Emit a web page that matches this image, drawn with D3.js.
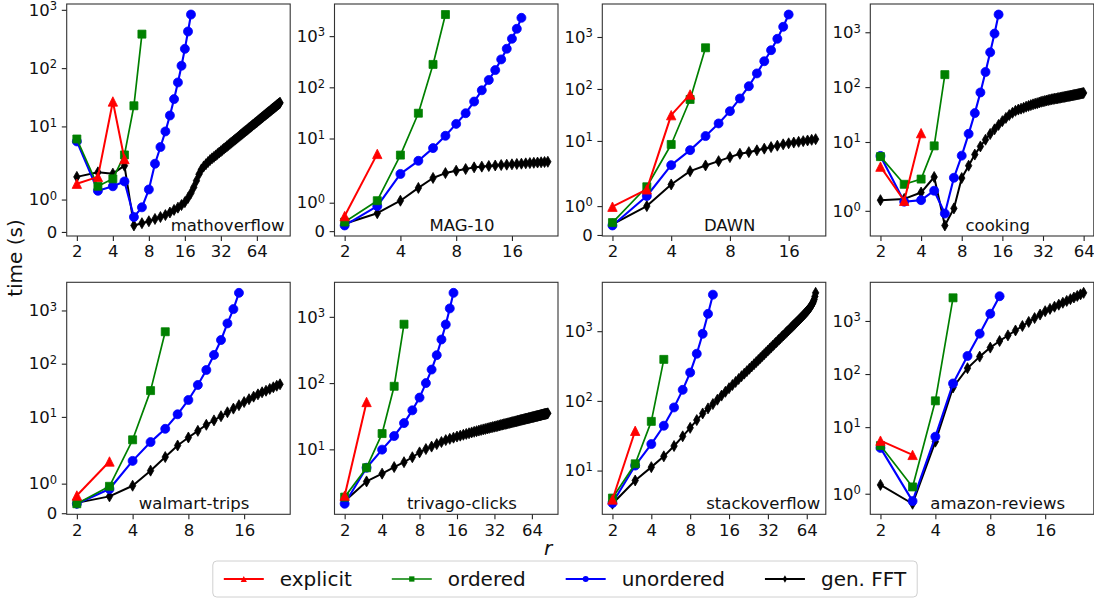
<!DOCTYPE html>
<html>
<head>
<meta charset="utf-8">
<script src="https://cdn.jsdelivr.net/npm/d3@7"></script>
<style>
  body { margin: 0; background: #fff; }
  svg { display: block; font-family: "DejaVu Sans", sans-serif; }
</style>
</head>
<body>
<svg id="chart" width="1094" height="601"></svg>
<script>
// every series starts at r = 2 and goes up by one
const rStart = 2;
const seriesNames = ["explicit", "ordered", "unordered", "gen. FFT"];
const datasetNames = ["mathoverflow", "MAG-10", "DAWN", "cooking",
                      "walmart-trips", "trivago-clicks", "stackoverflow", "amazon-reviews"];
const yTickValues = [0, 1, 10, 100, 1000];

// mathoverflow
const mathoverflowExplicit = [1.49, 1.70, 26.8, 2.76];
const mathoverflowOrdered = [6.08, 1.41, 1.64, 3.24, 22.6, 383];
const mathoverflowUnordered = [5.53, 1.27, 1.41, 1.56, 0.46, 0.76, 1.31, 2.29, 4.43, 8.2, 15.4, 29.4, 56.8, 110, 214, 425, 830];
const mathoverflowFFT = [1.70, 1.84, 1.80, 2.12, 0.20, 0.27, 0.33, 0.40, 0.46, 0.52, 0.60, 0.68, 0.75, 0.83, 0.92, 1.05, 1.20, 1.38, 1.58, 1.78,
  1.93, 2.06, 2.25, 2.45, 2.65, 2.83, 3.00, 3.18, 3.37, 3.56, 3.75, 3.95, 4.16, 4.36, 4.58, 4.79, 5.01, 5.24, 5.46, 5.69,
  5.93, 6.17, 6.41, 6.66, 6.91, 7.16, 7.42, 7.68, 7.95, 8.22, 8.49, 8.76, 9.04, 9.33, 9.61, 9.90, 10.2, 10.5, 10.8, 11.1,
  11.4, 11.7, 12.0, 12.3, 12.7, 13.0, 13.3, 13.7, 14.0, 14.3, 14.7, 15.0, 15.4, 15.7, 16.1, 16.4, 16.8, 17.1, 17.5, 17.9,
  18.2, 18.6, 19.0, 19.4, 19.8, 20.2, 20.5, 20.9, 21.3, 21.7, 22.1, 22.5, 23.0, 23.4, 23.8, 24.2, 24.6, 25.0, 25.5];

// MAG-10
const magExplicit = [0.53, 5.0];
const magOrdered = [0.32, 1.07, 4.74, 31.2, 280, 2642];
const magUnordered = [0.20, 0.88, 2.03, 3.67, 6.49, 11.3, 19.3, 31.2, 52.7, 87.5, 139, 217, 351, 567, 889, 1391, 2280];
const magFFT = [0.26, 0.63, 1.07, 1.52, 1.87, 2.11, 2.35, 2.53, 2.73, 2.82, 2.90, 2.97, 3.03, 3.08, 3.13, 3.18, 3.22, 3.27, 3.31, 3.35,
  3.39, 3.43, 3.47, 3.51];

// DAWN
const dawnExplicit = [0.98, 1.58, 31.3, 78.4];
const dawnOrdered = [0.43, 1.67, 8.55, 62.8, 620];
const dawnUnordered = [0.33, 1.35, 3.42, 6.65, 12.4, 21.7, 37.4, 65.6, 113, 199, 342, 557, 923, 1571, 2704];
const dawnFFT = [0.37, 1.0, 1.75, 2.62, 3.37, 4.08, 4.88, 5.66, 6.08, 6.6, 7.1, 7.6, 8.1, 8.6, 9.0, 9.3, 9.6, 9.9, 10.2, 10.5, 10.8];

// cooking
const cookingExplicit = [3.55, 1.33, 14.5];
const cookingOrdered = [5.41, 1.87, 2.11, 8.5, 169];
const cookingUnordered = [5.57, 1.30, 1.35, 1.66, 0.91, 2.23, 5.64, 14.1, 33.6, 80, 189, 431, 946, 2104];
const cookingFFT = [1.35, 1.39, 1.6, 2.3, 0.52, 1.08, 2.2, 3.7, 5.9, 8.3, 11, 14, 17, 20.5, 24, 27.5, 31, 34, 37, 39,
  40.5, 42, 44, 45.5, 47, 48.5, 50, 51, 52.5, 54, 55, 56, 57, 58, 59, 60, 60.7, 61.4, 62, 62.8,
  63.5, 64.2, 65, 65.7, 66.4, 67, 67.7, 68.4, 69, 69.7, 70.3, 71, 71.6, 72.3, 73, 73.6, 74.3, 75, 75.6, 76.3,
  77, 77.7, 78.4];

// walmart-trips
const walmartExplicit = [0.60, 1.75];
const walmartOrdered = [0.32, 0.91, 3.71, 31.2, 398];
const walmartUnordered = [0.32, 0.82, 1.77, 3.36, 5.97, 11.2, 20.8, 39.8, 76.2, 146, 278, 571, 1060, 2143];
const walmartFFT = [0.35, 0.57, 0.93, 1.44, 1.9, 2.9, 4.1, 5.47, 7.1, 8.6, 10.3, 12.2, 14.3, 16.6, 19, 21.5, 24, 26.5, 29, 31,
  33.5, 36, 38.5, 41];

// trivago-clicks
const trivagoExplicit = [2.0, 51.9];
const trivagoOrdered = [1.96, 5.28, 17.3, 89.5, 774];
const trivagoUnordered = [1.78, 5.28, 9.9, 15.9, 24.9, 38.8, 60.4, 100, 160, 264, 455, 767, 1340, 2302];
const trivagoFFT = [1.85, 3.28, 4.3, 5.4, 6.4, 7.6, 9.0, 10.1, 11.0, 12.0, 12.9, 13.8, 14.4, 15.0, 15.6, 16.1, 16.6, 17.1, 17.5, 18.0,
  18.4, 18.8, 19.2, 19.6, 20.0, 20.3, 20.7, 21.0, 21.4, 21.7, 22.0, 22.3, 22.6, 23.0, 23.3, 23.6, 23.9, 24.2, 24.4, 24.7,
  25.0, 25.3, 25.6, 25.8, 26.1, 26.4, 26.6, 26.9, 27.1, 27.4, 27.7, 27.9, 28.1, 28.4, 28.6, 28.9, 29.1, 29.3, 29.6, 29.8,
  30.0, 30.3, 30.5, 30.7, 30.9, 31.1, 31.4, 31.6, 31.8, 32.0, 32.2, 32.4, 32.6, 32.8, 33.1, 33.3, 33.5, 33.7, 33.9, 34.1,
  34.3, 34.4, 34.6, 34.8, 35.0];

// stackoverflow
const stackExplicit = [3.85, 37.2];
const stackOrdered = [4.03, 12.5, 50.8, 394];
const stackUnordered = [3.42, 11.8, 24.0, 44.0, 80.5, 144, 255, 475, 918, 1774, 3342];
const stackFFT = [3.34, 7.2, 11.2, 16, 22.5, 31, 41, 53, 66, 78, 90, 104, 119, 135, 152, 169, 187, 206, 226, 246,
  267, 289, 312, 336, 360, 386, 412, 440, 468, 497, 527, 558, 589, 621, 654, 688, 722, 757, 793, 830,
  867, 905, 944, 984, 1024, 1065, 1107, 1150, 1194, 1238, 1283, 1329, 1376, 1424, 1473, 1523, 1574, 1626, 1680, 1735,
  1792, 1850, 1910, 1975, 2045, 2120, 2200, 2290, 2390, 2500, 2650, 2850, 3150, 3550];

// amazon-reviews
const amazonExplicit = [5.56, 3.0];
const amazonOrdered = [4.49, 1.23, 31.3, 2729];
const amazonUnordered = [4.06, 0.75, 6.6, 66.4, 219, 576, 1368, 2925];
const amazonFFT = [1.30, 0.66, 5.33, 55.8, 129, 213, 315, 419, 535, 662, 804, 960, 1133, 1321, 1528, 1688, 1853, 2026, 2203, 2386,
  2575, 2767, 2965, 3167, 3387];

const panelSeries = [
  [mathoverflowExplicit, mathoverflowOrdered, mathoverflowUnordered, mathoverflowFFT],
  [magExplicit, magOrdered, magUnordered, magFFT],
  [dawnExplicit, dawnOrdered, dawnUnordered, dawnFFT],
  [cookingExplicit, cookingOrdered, cookingUnordered, cookingFFT],
  [walmartExplicit, walmartOrdered, walmartUnordered, walmartFFT],
  [trivagoExplicit, trivagoOrdered, trivagoUnordered, trivagoFFT],
  [stackExplicit, stackOrdered, stackUnordered, stackFFT],
  [amazonExplicit, amazonOrdered, amazonUnordered, amazonFFT]
];

// layout
const colLeft = [66.7, 334.5, 602.3, 870.3];
const rowTop = [4, 282.3];
const axW = 223.5, axH = 232;
const labelFrac = [0.72, 0.57, 0.57, 0.57, 0.57, 0.57, 0.72, 0.57];
const styles = [
  { color: "#ff0000", marker: "triangle", lw: 2.0 },
  { color: "#008000", marker: "square", lw: 1.7 },
  { color: "#0000ff", marker: "circle", lw: 2.1 },
  { color: "#000000", marker: "diamond", lw: 2.0 }
];

// matplotlib symlog, linthresh 2, linscale 1
const linthresh = 2, linAdj = 1 / (1 - 1 / 10);
function symT(v) {
  return v <= linthresh ? v / linthresh * linAdj : linAdj + Math.log10(v / linthresh);
}

function markerPath(type, k) {
  const p = d3.path();
  if (type === "circle") {
    p.arc(0, 0, 4.5 * k, 0, 2 * Math.PI);
  } else if (type === "square") {
    p.rect(-4 * k, -4 * k, 8 * k, 8 * k);
  } else if (type === "triangle") {
    p.moveTo(0, -4.7 * k); p.lineTo(4.7 * k, 4.7 * k); p.lineTo(-4.7 * k, 4.7 * k); p.closePath();
  } else {
    p.moveTo(0, -5.5 * k); p.lineTo(3.2 * k, 0); p.lineTo(0, 5.5 * k); p.lineTo(-3.2 * k, 0); p.closePath();
  }
  return p.toString();
}

const svg = d3.select("#chart");

panelSeries.forEach((seriesList, i) => {
  const left = colLeft[i % 4], top = rowTop[Math.floor(i / 4)];
  const g = svg.append("g").attr("transform", `translate(${left},${top})`);

  const pts = seriesList.flatMap(vals => vals.map((v, j) => ({ r: rStart + j, v })));
  const rMax = d3.max(pts, d => d.r);
  const lo = Math.log2(rStart), hi = Math.log2(rMax), px = 0.05 * (hi - lo);
  const x = d3.scaleLog().base(2).domain([2 ** (lo - px), 2 ** (hi + px)]).range([0, axW]);
  const tExt = d3.extent(pts, d => symT(d.v));
  const py = 0.05 * (tExt[1] - tExt[0]);
  const y = d3.scaleLinear().domain([tExt[0] - py, tExt[1] + py]).range([axH, 0]);

  // x axis
  const xTicks = [2, 4, 8, 16, 32, 64].filter(t => t <= x.domain()[1]);
  const gx = g.append("g").attr("transform", `translate(0,${axH})`)
    .call(d3.axisBottom(x).tickValues(xTicks).tickFormat(d3.format("d")).tickSize(4.9).tickPadding(4.6));
  gx.select(".domain").remove();
  gx.attr("font-size", null).attr("font-family", null);
  gx.selectAll("line").attr("stroke", "#222").attr("stroke-width", 1.1);
  gx.selectAll("text").attr("font-size", 16.5).attr("fill", "#111");

  // y axis
  const yTicks = yTickValues.filter(v => { const t = symT(v); return t >= y.domain()[0] && t <= y.domain()[1]; });
  const tickByT = new Map(yTicks.map(v => [symT(v), v]));
  const gy = g.append("g")
    .call(d3.axisLeft(y).tickValues(yTicks.map(symT)).tickSize(4.9).tickPadding(4.6));
  gy.select(".domain").remove();
  gy.attr("font-size", null).attr("font-family", null);
  gy.selectAll("line").attr("stroke", "#222").attr("stroke-width", 1.1);
  gy.selectAll(".tick text").each(function(d) {
    const v = tickByT.get(d);
    const t = d3.select(this).attr("font-size", 16.5).attr("fill", "#111").text(null);
    if (v === 0) { t.text("0"); return; }
    t.append("tspan").text("10");
    t.append("tspan").attr("dy", "-0.48em").attr("font-size", "0.7em").text(Math.round(Math.log10(v)));
  });

  // series, black first so red ends on top
  [3, 2, 1, 0].forEach(s => {
    const vals = seriesList[s], st = styles[s];
    const data = vals.map((v, j) => ({ r: rStart + j, v }));
    g.append("path").datum(data)
      .attr("fill", "none").attr("stroke", st.color).attr("stroke-width", st.lw)
      .attr("stroke-linejoin", "round")
      .attr("d", d3.line().x(d => x(d.r)).y(d => y(symT(d.v))));
    g.append("g").selectAll("path").data(data).enter().append("path")
      .attr("transform", d => `translate(${x(d.r)},${y(symT(d.v))})`)
      .attr("d", markerPath(st.marker, 1))
      .attr("fill", st.color).attr("stroke", st.color).attr("stroke-width", 0.8);
  });

  // frame
  g.append("rect").attr("width", axW).attr("height", axH)
    .attr("fill", "none").attr("stroke", "#333").attr("stroke-width", 1.1);

  g.append("text").attr("x", axW * labelFrac[i]).attr("y", axH - 5.5)
    .attr("text-anchor", "middle").attr("font-size", 16.5).attr("fill", "#111")
    .text(datasetNames[i]);
});

// axis titles
svg.append("text").attr("transform", "translate(22,258) rotate(-90)")
  .attr("text-anchor", "middle").attr("font-size", 20).attr("fill", "#111").text("time (s)");
svg.append("text").attr("x", 548).attr("y", 555)
  .attr("text-anchor", "middle").attr("font-size", 20).attr("font-style", "italic").attr("fill", "#111").text("r");

// legend
const fs = 20, handleLen = 2 * fs, textPad = 0.8 * fs, colSpace = 2 * fs, borderPad = 0.4 * fs;
const legend = svg.append("g");
let cx = 0;
seriesNames.forEach((name, s) => {
  const it = legend.append("g").attr("transform", `translate(${cx},0)`);
  it.append("line").attr("x1", 0).attr("x2", handleLen).attr("y1", 0).attr("y2", 0)
    .attr("stroke", styles[s].color).attr("stroke-width", styles[s].lw);
  it.append("path").attr("transform", `translate(${handleLen / 2},0)`)
    .attr("d", markerPath(styles[s].marker, 0.66)).attr("fill", styles[s].color);
  const txt = it.append("text").attr("x", handleLen + textPad).attr("y", 7)
    .attr("font-size", fs).attr("fill", "#111").text(name);
  const w = txt.node().getComputedTextLength();
  cx += handleLen + textPad + w + colSpace;
});
const legendW = cx - colSpace + 2 * borderPad + 6;
const legendX = 565 - legendW / 2, legendY = 561, legendH = 36;
legend.insert("rect", ":first-child")
  .attr("x", -borderPad - 3).attr("y", -legendH / 2).attr("width", legendW).attr("height", legendH)
  .attr("rx", 4).attr("fill", "#fff").attr("stroke", "#d0d0d0").attr("stroke-width", 1);
legend.attr("transform", `translate(${legendX + borderPad + 3},${legendY + legendH / 2})`);
</script>
</body>
</html>
